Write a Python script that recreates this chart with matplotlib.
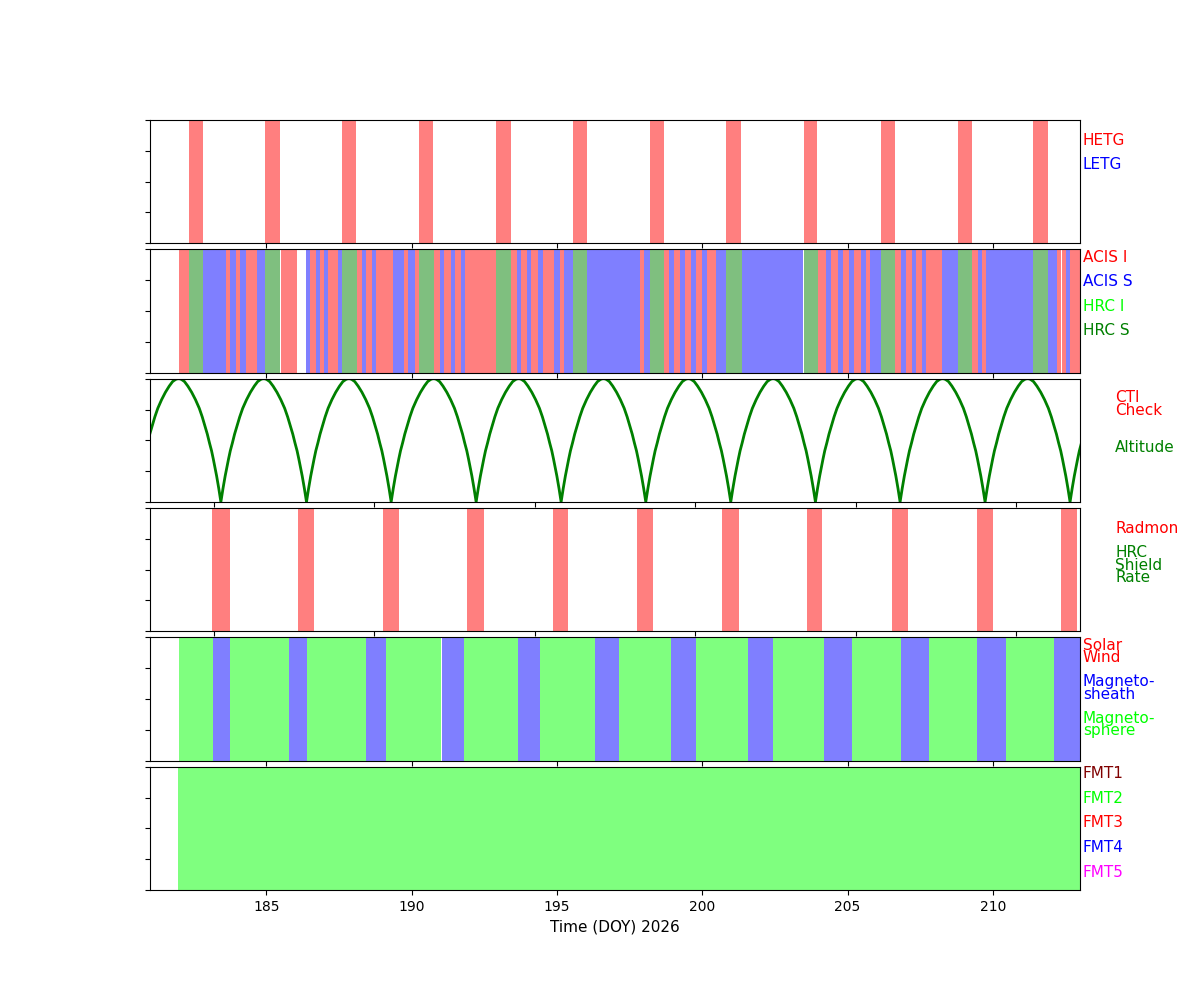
import numpy as np
import matplotlib
matplotlib.use('Agg')
import matplotlib.pyplot as plt

# time axis (DOY 2026)
xlim_doy = (181, 213)
xlim_orbit = (183, 212)   # the altitude / radmon panels use their own range

# grating insertions (HETG)
hetg = [(182.34, 182.82), (184.96, 185.47), (187.61, 188.09), (190.26, 190.74),
        (192.91, 193.42), (195.56, 196.04), (198.20, 198.69), (200.82, 201.34),
        (203.50, 203.95), (206.15, 206.63), (208.80, 209.28), (211.38, 211.90)]
letg = []

# science instrument intervals
acis_i = [(182.00, 182.34), (183.62, 183.75), (183.96, 184.10), (184.30, 184.68),
          (185.51, 186.06), (186.51, 186.71), (186.85, 186.99), (187.13, 187.47),
          (188.12, 188.30), (188.43, 188.64), (188.78, 189.36), (189.74, 189.88),
          (190.12, 190.26), (190.77, 190.98), (191.12, 191.36), (191.50, 191.70),
          (191.84, 192.91), (193.42, 193.63), (193.77, 193.97), (194.11, 194.35),
          (194.52, 194.90), (195.11, 195.25), (197.86, 198.00), (198.69, 198.86),
          (199.03, 199.24), (199.41, 199.62), (199.79, 199.99), (200.17, 200.48),
          (203.99, 204.26), (204.43, 204.67), (204.85, 205.05), (205.22, 205.47),
          (205.64, 205.77), (206.63, 206.84), (207.01, 207.22), (207.36, 207.56),
          (207.70, 208.25), (209.28, 209.49), (209.63, 209.77), (212.21, 212.35),
          (212.38, 212.52), (212.66, 213.00)]
acis_s = [(182.82, 183.62), (183.75, 183.96), (184.10, 184.30), (184.68, 184.96),
          (186.37, 186.51), (186.71, 186.85), (186.99, 187.13), (187.47, 187.61),
          (188.30, 188.43), (188.64, 188.78), (189.36, 189.74), (189.88, 190.12),
          (190.98, 191.12), (191.36, 191.50), (191.70, 191.84), (193.63, 193.77),
          (193.97, 194.11), (194.35, 194.52), (194.90, 195.11), (195.25, 195.56),
          (196.04, 197.86), (198.00, 198.20), (198.86, 199.03), (199.24, 199.41),
          (199.62, 199.79), (199.99, 200.17), (200.48, 200.82), (201.37, 203.47),
          (204.26, 204.43), (204.67, 204.85), (205.05, 205.22), (205.47, 205.64),
          (205.77, 206.15), (206.84, 207.01), (207.22, 207.36), (207.56, 207.70),
          (208.25, 208.80), (209.49, 209.63), (209.77, 211.38), (211.90, 212.21),
          (212.52, 212.66)]
hrc_i = []
hrc_s = [(182.34, 182.82), (184.96, 185.47), (187.61, 188.12), (190.26, 190.77),
         (192.91, 193.42), (195.56, 196.04), (198.20, 198.69), (200.82, 201.37),
         (203.50, 203.99), (206.15, 206.63), (208.80, 209.28), (211.38, 211.90)]

# orbit: perigee times and the altitude shape of a half orbit (fraction of max)
perigees = [182.57, 185.21, 187.88, 190.52, 193.17, 195.82, 198.46,
            201.11, 203.75, 206.39, 209.04, 211.69, 214.33]
half_orbit_frac = [0.0, 0.05, 0.10, 0.14, 0.18, 0.22, 0.27, 0.32, 0.38, 0.44,
                   0.51, 0.60, 0.69, 0.78, 0.86, 0.93, 0.965, 1.0]
half_orbit_alt = [0.0, 0.11, 0.21, 0.28, 0.35, 0.415, 0.48, 0.55, 0.62, 0.69,
                  0.76, 0.83, 0.89, 0.94, 0.977, 0.994, 0.9986, 1.0]

# radiation monitor disabled intervals
radmon = [(184.93, 185.50), (187.62, 188.11), (190.27, 190.76), (192.89, 193.42),
          (195.57, 196.03), (198.19, 198.69), (200.84, 201.37), (203.49, 203.96),
          (206.14, 206.64), (208.79, 209.29), (211.41, 211.91)]

# radiation zones
solar_wind = []
magnetosheath = [(183.16, 183.75), (185.79, 186.41), (188.43, 189.13), (191.04, 191.80),
                 (193.67, 194.42), (196.30, 197.14), (198.93, 199.79), (201.57, 202.45),
                 (204.20, 205.14), (206.84, 207.80), (209.45, 210.46), (212.10, 213.00)]
magnetosphere = [(181.99, 183.16), (183.76, 185.79), (186.41, 188.43), (189.13, 191.03),
                 (191.80, 193.67), (194.42, 196.30), (197.14, 198.93), (199.80, 201.57),
                 (202.45, 204.20), (205.14, 206.84), (207.80, 209.45), (210.46, 212.10)]

# telemetry format
fmt2 = [(181.96, 213.00)]


def spans(ax, intervals, color):
    for start, stop in intervals:
        ax.axvspan(start, stop, color=color, alpha=0.5, lw=0)


fig, axes = plt.subplots(6, 1, figsize=(12, 10))
plt.subplots_adjust(hspace=0.05)

# panel 1: gratings
ax = axes[0]
spans(ax, hetg, 'red')
spans(ax, letg, 'blue')
ax.set_xlim(xlim_doy)

# panel 2: instruments
ax = axes[1]
spans(ax, acis_i, 'red')
spans(ax, acis_s, 'blue')
spans(ax, hrc_i, 'lime')
spans(ax, hrc_s, 'green')
ax.set_xlim(xlim_doy)

# panel 3: altitude
ax = axes[2]
frac = np.array(half_orbit_frac)
alt = np.array(half_orbit_alt)
t_all, a_all = [], []
for p0, p1 in zip(perigees[:-1], perigees[1:]):
    mid = (p0 + p1) / 2
    t_all += list(p0 + frac * (mid - p0)) + list(p1 - frac[::-1] * (p1 - mid))
    a_all += list(alt) + list(alt[::-1])
ax.plot(t_all, a_all, color='green', lw=2)
ax.set_xlim(xlim_orbit)

# panel 4: radmon
ax = axes[3]
spans(ax, radmon, 'red')
ax.set_xlim(xlim_orbit)

# panel 5: radiation zones
ax = axes[4]
spans(ax, solar_wind, 'red')
spans(ax, magnetosheath, 'blue')
spans(ax, magnetosphere, 'lime')
ax.set_xlim(xlim_doy)

# panel 6: formats
ax = axes[5]
spans(ax, fmt2, 'lime')
ax.set_xlim(xlim_doy)
ax.set_xlabel('Time (DOY) 2026', fontsize=11)

for i, ax in enumerate(axes):
    ax.set_ylim(0, 1)
    ax.set_yticks(np.linspace(0, 1, 5))
    ax.set_yticklabels([])
    ax.set_xticks([185, 190, 195, 200, 205, 210])
    if i < 5:
        ax.set_xticklabels([])

labels = [
    (0, 1.003, [('HETG', 0.837, 'red'), ('LETG', 0.642, 'blue')]),
    (1, 1.003, [('ACIS I', 0.935, 'red'), ('ACIS S', 0.742, 'blue'),
                ('HRC I', 0.54, 'lime'), ('HRC S', 0.339, 'green')]),
    (2, 1.038, [('CTI\nCheck', 0.793, 'red'), ('Altitude', 0.439, 'green')]),
    (3, 1.038, [('Radmon', 0.837, 'red'), ('HRC\nShield\nRate', 0.537, 'green')]),
    (4, 1.003, [('Solar\nWind', 0.887, 'red'), ('Magneto-\nsheath', 0.589, 'blue'),
                ('Magneto-\nsphere', 0.294, 'lime')]),
    (5, 1.003, [('FMT1', 0.943, '#800000'), ('FMT2', 0.740, 'lime'), ('FMT3', 0.545, 'red'),
                ('FMT4', 0.341, 'blue'), ('FMT5', 0.138, 'magenta')]),
]
for idx, xpos, items in labels:
    for text, ypos, color in items:
        axes[idx].text(xpos, ypos, text, color=color, fontsize=11, va='center', ha='left',
                       linespacing=0.8, transform=axes[idx].transAxes)

plt.savefig('out.png', dpi=100)
